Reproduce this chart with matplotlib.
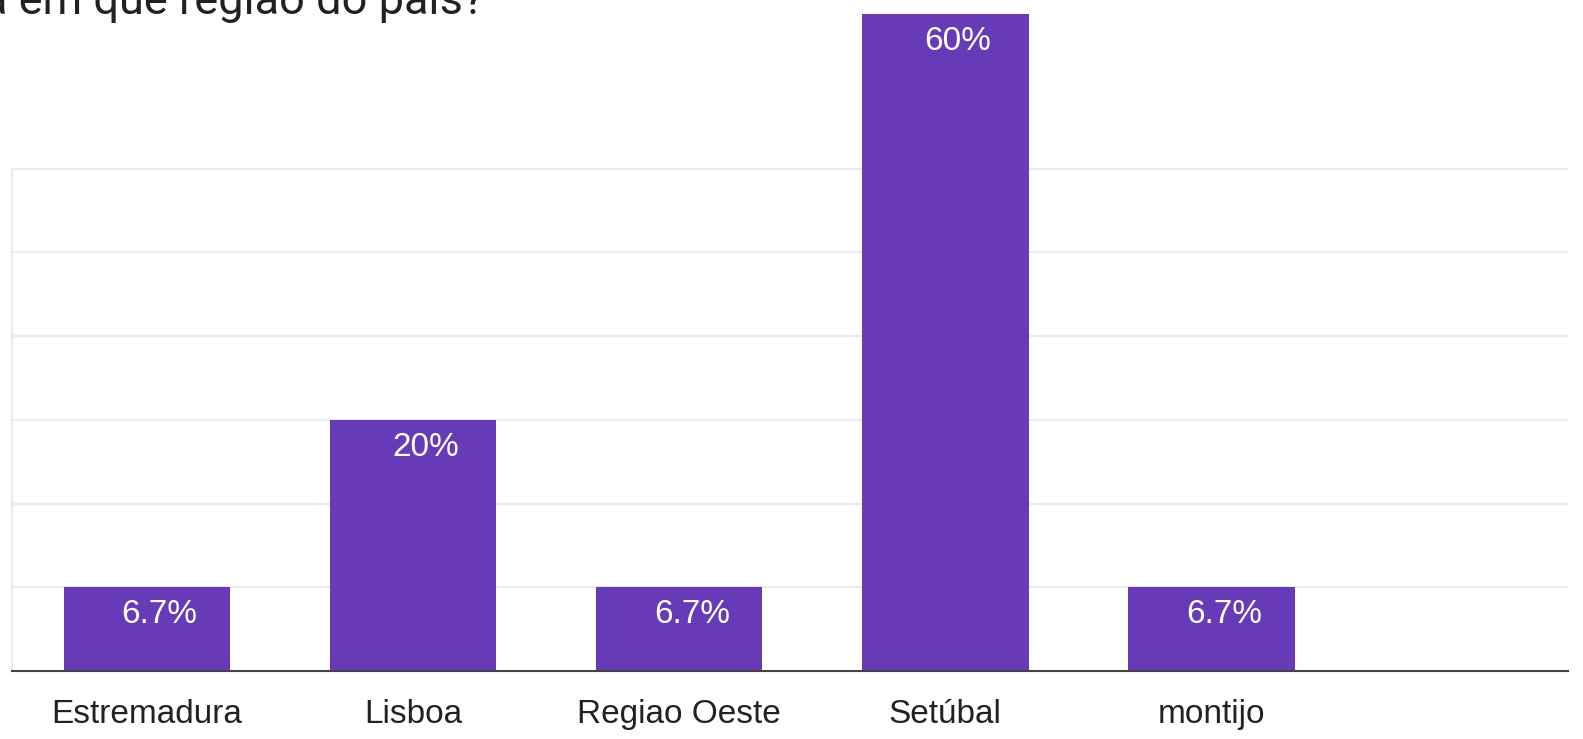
import numpy as np
import matplotlib
matplotlib.use("Agg")
import matplotlib.pyplot as plt

# -------------------------------
# DATA
# -------------------------------
categories = ["Estremadura", "Lisboa", "Regiao Oeste", "Setúbal", "montijo"]
pct_values = [6.7, 20, 6.7, 60, 6.7]
pct_labels = ["6.7%", "20%", "6.7%", "60%", "6.7%"]
grid_values = [6.67, 13.33, 20, 26.67, 33.33, 40]
title_text = "a em que região do país?"

# -------------------------------
# STYLE
# -------------------------------
BAR_COLOR = "#673ab7"
GRID_COLOR = "#ebebeb"
TEXT_COLOR = "#222222"
Y_TOP = 52.3  # the visible crop stops here, bar of Setúbal is cut

fig = plt.figure(figsize=(15.83, 7.39), dpi=100)
ax = fig.add_axes([12 / 1583, 68 / 739, (1568 - 12) / 1583, (671 - 14) / 739])

x = np.arange(len(categories))
ax.bar(x, pct_values, width=0.625, color=BAR_COLOR, zorder=3)

ax.set_xlim(-0.508, 5.34)
ax.set_ylim(0, Y_TOP)

# gridlines
ax.set_yticks(grid_values)
ax.set_yticklabels([])
ax.yaxis.grid(True, color=GRID_COLOR, linewidth=1.6, zorder=0)
ax.tick_params(axis="y", length=0)

# spines
ax.spines["top"].set_visible(False)
ax.spines["right"].set_visible(False)
ax.spines["left"].set_color(GRID_COLOR)
ax.spines["left"].set_linewidth(1.6)
ax.spines["left"].set_bounds(0, grid_values[-1])
ax.spines["bottom"].set_color("#444444")
ax.spines["bottom"].set_linewidth(1.5)
ax.spines["bottom"].set_zorder(4)

# category labels
ax.set_xticks(x)
ax.set_xticklabels(categories, fontsize=24, color=TEXT_COLOR,
                   family=["Liberation Sans", "DejaVu Sans"])
ax.tick_params(axis="x", length=0, pad=20)

# value labels inside the bars
for xi, v, lab in zip(x, pct_values, pct_labels):
    top = min(v, Y_TOP)
    ax.annotate(lab, xy=(xi, top), xytext=(9, -9), textcoords="offset points",
                ha="center", va="top", color="white", fontsize=24,
                family=["Liberation Sans", "DejaVu Sans"], zorder=5)

# cropped question title (top of it is outside the screenshot)
fig.text(484 / 1583, 1 - 14 / 739, title_text, ha="right", va="baseline",
         fontsize=32.5, color="#202124", family=["Roboto", "DejaVu Sans"])

fig.savefig("out.png", dpi=100)
